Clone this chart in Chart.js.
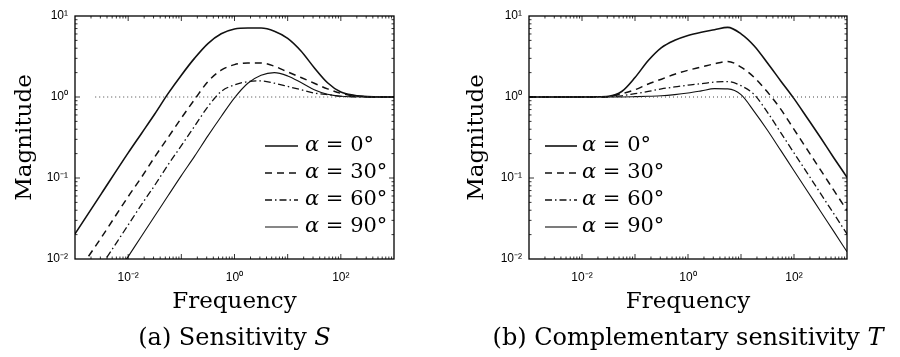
<!DOCTYPE html>
<html>
<head>
<meta charset="utf-8">
<script src="https://cdn.jsdelivr.net/npm/chart.js@4.4.1/dist/chart.umd.min.js"></script>
<style>
  body { margin: 0; background: #fff; width: 900px; height: 357px; overflow: hidden; }
  canvas { position: absolute; top: 0; }
  #chartS { left: 0; }
  #chartT { left: 450px; }
</style>
</head>
<body>
<canvas id="chartS" width="450" height="357"></canvas>
<canvas id="chartT" width="450" height="357"></canvas>
<script>
// frequency grid (quarter decades) and read-off magnitudes
const freq = [0.001, 0.00316, 0.01, 0.0178, 0.0316, 0.0562, 0.1, 0.178, 0.316, 0.562,
  1, 1.78, 3.16, 5.62, 10, 17.8, 31.6, 56.2, 100, 178, 316, 562, 1000];
const angles = ['0°', '30°', '60°', '90°'];

// (a) sensitivity S
const sens0  = [0.0204, 0.0646, 0.204, 0.355, 0.617, 1.10, 1.86, 3.02, 4.57, 6.03, 6.9, 7.1, 7.1, 6.5, 5.3, 3.7, 2.3, 1.5, 1.15, 1.05, 1.01, 1.0, 1.0];
const sens30 = [0.00617, 0.0186, 0.0589, 0.102, 0.182, 0.316, 0.550, 0.933, 1.55, 2.14, 2.51, 2.63, 2.63, 2.40, 2.04, 1.74, 1.48, 1.26, 1.11, 1.035, 1.01, 1.0, 1.0];
const sens60 = [0.00263, 0.00832, 0.0263, 0.0468, 0.0813, 0.145, 0.251, 0.437, 0.759, 1.17, 1.41, 1.55, 1.58, 1.48, 1.35, 1.23, 1.12, 1.07, 1.02, 1.007, 1.0, 1.0, 1.0];
const sens90 = [0.00107, 0.00339, 0.0107, 0.0191, 0.0339, 0.0603, 0.107, 0.186, 0.331, 0.575, 0.977, 1.48, 1.86, 2.0, 1.82, 1.51, 1.23, 1.08, 1.02, 1.007, 1.0, 1.0, 1.0];

// (b) complementary sensitivity T
const comp0  = [1, 1, 1, 1.005, 1.02, 1.17, 1.74, 2.82, 4.07, 5.01, 5.75, 6.31, 6.76, 7.24, 6.03, 4.27, 2.63, 1.58, 0.955, 0.55, 0.316, 0.178, 0.102];
const comp30 = [1, 1, 1, 1.002, 1.01, 1.10, 1.23, 1.45, 1.66, 1.91, 2.14, 2.34, 2.57, 2.75, 2.34, 1.74, 1.15, 0.708, 0.398, 0.224, 0.126, 0.0708, 0.0398];
const comp60 = [1, 1, 1, 1.001, 1.007, 1.035, 1.10, 1.17, 1.26, 1.33, 1.40, 1.46, 1.53, 1.55, 1.38, 1.07, 0.646, 0.363, 0.204, 0.115, 0.0646, 0.0363, 0.0204];
const comp90 = [1, 1, 1, 1, 1, 1.002, 1.01, 1.02, 1.035, 1.07, 1.12, 1.19, 1.27, 1.26, 1.07, 0.661, 0.389, 0.219, 0.123, 0.0692, 0.0389, 0.0219, 0.0123];

// dotted unity reference line (x extent)
const refS = [0.0024, 1000];
const refT = [0.001, 1000];

const xTicks = [1e-3, 1e-2, 1e-1, 1, 10, 100, 1000];
const xTickLabels = ['', '10⁻²', '', '10⁰', '', '10²', ''];
const yTicks = [0.01, 0.1, 1, 10];
const yTickLabels = ['10⁻²', '10⁻¹', '10⁰', '10¹'];

const lineStyles = [
  { dash: [], width: 1.6 },
  { dash: [7, 5], width: 1.5 },
  { dash: [7, 3, 1.5, 3], width: 1.3 },
  { dash: [], width: 1.1 }
];

function labelFor(ticks, labels, v) {
  const k = ticks.findIndex(t => Math.abs(Math.log10(t) - Math.log10(v)) < 1e-6);
  return k < 0 ? '' : labels[k];
}

function makeDatasets(series, ref) {
  const ds = series.map((vals, i) => ({
    label: 'α = ' + angles[i],
    data: freq.map((f, j) => ({ x: f, y: vals[j] })),
    borderColor: '#111',
    borderWidth: lineStyles[i].width,
    borderDash: lineStyles[i].dash,
    pointRadius: 0,
    cubicInterpolationMode: 'monotone',
    fill: false
  }));
  ds.unshift({
    label: 'ref',
    data: ref.map(f => ({ x: f, y: 1 })),
    borderColor: '#444',
    borderWidth: 1,
    borderDash: [1, 3],
    pointRadius: 0,
    fill: false
  });
  return ds;
}

// box with inward ticks, like the original plot
const frame = {
  id: 'frame',
  afterDatasetsDraw(chart) {
    const { ctx, chartArea: a, scales: { x, y } } = chart;
    ctx.save();
    ctx.strokeStyle = '#000';
    ctx.lineWidth = 1.3;
    ctx.strokeRect(a.left, a.top, a.right - a.left, a.bottom - a.top);
    ctx.lineWidth = 0.8;
    ctx.beginPath();
    for (let e = -3; e <= 3; e++) {
      for (let m = 1; m < 10; m++) {
        const v = m * Math.pow(10, e);
        if (v > 1000) break;
        const len = m === 1 ? 5 : 2.5;
        if (m === 1 || e < 3) {
          const px = x.getPixelForValue(v);
          if (px > a.left + 1 && px < a.right - 1) {
            ctx.moveTo(px, a.bottom); ctx.lineTo(px, a.bottom - len);
            ctx.moveTo(px, a.top); ctx.lineTo(px, a.top + len);
          }
        }
        if (e >= -2 && e <= 0) {
          const py = y.getPixelForValue(v);
          if (py > a.top + 1 && py < a.bottom - 1) {
            ctx.moveTo(a.left, py); ctx.lineTo(a.left + len, py);
            ctx.moveTo(a.right, py); ctx.lineTo(a.right - len, py);
          }
        }
      }
    }
    ctx.stroke();
    ctx.restore();
  }
};

// legend drawn inside the axes
const innerLegend = {
  id: 'innerLegend',
  afterDatasetsDraw(chart, args, opts) {
    const { ctx } = chart;
    ctx.save();
    ctx.textBaseline = 'middle';
    ctx.fillStyle = '#000';
    chart.data.datasets.filter(d => d.label !== 'ref').forEach((d, i) => {
      const yy = opts.firstY + i * opts.rowGap;
      ctx.strokeStyle = d.borderColor;
      ctx.lineWidth = d.borderWidth;
      ctx.setLineDash(d.borderDash);
      ctx.beginPath();
      ctx.moveTo(opts.lineX0, yy);
      ctx.lineTo(opts.lineX1, yy);
      ctx.stroke();
      ctx.setLineDash([]);
      const greek = d.label.charAt(0);
      const rest = d.label.slice(1);
      ctx.font = 'italic 21px "DejaVu Serif"';
      ctx.fillText(greek, opts.textX, yy);
      const w = ctx.measureText(greek).width;
      ctx.font = '21px "DejaVu Serif"';
      ctx.fillText(rest, opts.textX + w, yy);
    });
    ctx.restore();
  }
};

// sub-figure caption under the axis title
const caption = {
  id: 'caption',
  afterDraw(chart, args, opts) {
    const { ctx, chartArea: a } = chart;
    ctx.save();
    ctx.fillStyle = '#000';
    ctx.textBaseline = 'alphabetic';
    ctx.font = '24px "DejaVu Serif"';
    const w1 = ctx.measureText(opts.text).width;
    ctx.font = 'italic 24px "DejaVu Serif"';
    const w2 = ctx.measureText(opts.italic).width;
    const x0 = (a.left + a.right) / 2 - (w1 + w2) / 2;
    ctx.font = '24px "DejaVu Serif"';
    ctx.fillText(opts.text, x0, opts.baseline);
    ctx.font = 'italic 24px "DejaVu Serif"';
    ctx.fillText(opts.italic, x0 + w1, opts.baseline);
    ctx.restore();
  }
};

function scalesFor(yWidth, yTitlePad) {
  return {
    x: {
      type: 'logarithmic', min: 1e-3, max: 1e3,
      afterBuildTicks: s => { s.ticks = xTicks.map(v => ({ value: v })); },
      afterFit: s => { s.height = 98; },
      ticks: {
        callback: v => labelFor(xTicks, xTickLabels, v),
        autoSkip: false, maxRotation: 0, padding: 11, color: '#000',
        font: { family: 'Liberation Sans', size: 12 }
      },
      grid: { display: false, drawTicks: false },
      border: { display: false },
      title: {
        display: true, text: 'Frequency', color: '#000',
        font: { family: 'DejaVu Serif', size: 23 },
        padding: { top: 0, bottom: 41 }
      }
    },
    y: {
      type: 'logarithmic', min: 0.01, max: 10,
      afterBuildTicks: s => { s.ticks = yTicks.map(v => ({ value: v })); },
      afterFit: s => { s.width = yWidth; },
      ticks: {
        callback: v => labelFor(yTicks, yTickLabels, v),
        autoSkip: false, padding: 7, color: '#000',
        font: { family: 'Liberation Sans', size: 12 }
      },
      grid: { display: false, drawTicks: false },
      border: { display: false },
      title: {
        display: true, text: 'Magnitude', color: '#000',
        font: { family: 'DejaVu Serif', size: 23 },
        padding: { top: yTitlePad, bottom: 0 }
      }
    }
  };
}

function makeChart(id, series, ref, cfg) {
  return new Chart(document.getElementById(id), {
    type: 'line',
    data: { datasets: makeDatasets(series, ref) },
    options: {
      responsive: false,
      animation: false,
      layout: { padding: { top: 16, right: cfg.padRight, bottom: 0, left: 0 } },
      scales: scalesFor(cfg.yWidth, cfg.yTitlePad),
      plugins: {
        legend: { display: false },
        tooltip: { enabled: false },
        innerLegend: cfg.legend,
        caption: cfg.caption
      }
    },
    plugins: [frame, innerLegend, caption]
  });
}

makeChart('chartS', [sens0, sens30, sens60, sens90], refS, {
  padRight: 56, yWidth: 75, yTitlePad: 11,
  legend: { lineX0: 265, lineX1: 298, textX: 305, firstY: 146, rowGap: 27, bold: false },
  caption: { text: '(a) Sensitivity ', italic: 'S', baseline: 345 }
});

makeChart('chartT', [comp0, comp30, comp60, comp90], refT, {
  padRight: 53, yWidth: 79, yTitlePad: 13,
  legend: { lineX0: 95, lineX1: 127, textX: 132, firstY: 146, rowGap: 27, bold: false },
  caption: { text: '(b) Complementary sensitivity ', italic: 'T', baseline: 345 }
});
</script>
</body>
</html>
